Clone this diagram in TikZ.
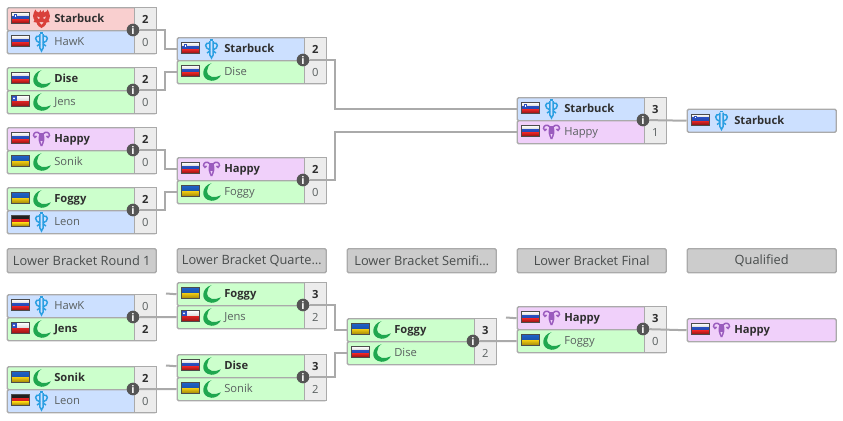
\documentclass[tikz,border=0pt]{standalone}
\usepackage{fontspec}
\setmainfont{Open Sans}
\usepackage{xcolor}
\usetikzlibrary{calc}
\definecolor{boxline}{HTML}{AAAAAA}
\definecolor{rowred}{HTML}{F9CFCF}
\definecolor{rowblue}{HTML}{CCE0FF}
\definecolor{rowgreen}{HTML}{CCFFCC}
\definecolor{rowpurple}{HTML}{F0D0FA}
\definecolor{scoregray}{HTML}{ECECEC}
\definecolor{headgray}{HTML}{CCCCCC}
\definecolor{infogray}{HTML}{555555}
\definecolor{textdark}{HTML}{2F2F2F}
\definecolor{textgrey}{HTML}{5A6060}
\definecolor{headtext}{HTML}{484C4C}
\definecolor{raceblue}{HTML}{2B9FE2}
\definecolor{racegreen}{HTML}{1FA74F}
\definecolor{racepurple}{HTML}{9A5BBE}
\definecolor{racered}{HTML}{D9403A}
\definecolor{flagblack}{HTML}{222222}
\definecolor{flagblue}{HTML}{2A4FC0}
\definecolor{flagsky}{HTML}{1F62C8}
\definecolor{flagred}{HTML}{DD2222}
\definecolor{flagyellow}{HTML}{F2CC10}
\newcommand{\winner}{\bfseries\color{textdark}}
\newcommand{\loser}{\color{textgrey}}
\newcommand{\stripes}[3]{
  \fill[top color=#1,bottom color=#1!85!black] (0,0) rectangle (18,3.7);
  \fill[top color=#2,bottom color=#2!88!black] (0,3.7) rectangle (18,7.4);
  \fill[top color=#3,bottom color=#3!60!black] (0,7.4) rectangle (18,11);
  \draw[black!70,line width=0.4pt] (0,0) rectangle (18,11);
}
\tikzset{
  rowbox/.style={draw=boxline,line width=1.1pt,rounded corners=1pt,anchor=north west,
    minimum width=111.75pt,minimum height=17.25pt,inner sep=0pt},
  scorebox/.style={draw=boxline,line width=1.1pt,fill=scoregray,anchor=north east,
    minimum width=16.5pt,minimum height=17.25pt,inner sep=0pt,font=\fontsize{8.4}{10}\selectfont},
  nametext/.style={anchor=west,inner sep=0pt,text height=6.4pt,text depth=1.6pt,
    font=\fontsize{8.4}{10}\selectfont},
  headbox/.style={draw=boxline,line width=1.1pt,fill=headgray,rounded corners=1pt,anchor=north west,
    minimum width=111.75pt,minimum height=18pt,inner sep=0pt,text=headtext,
    font=\fontsize{9.6}{11}\selectfont},
  infodot/.style={circle,fill=infogray,text=white,minimum size=9.5pt,inner sep=0pt,
    font=\bfseries\fontsize{8}{8}\selectfont},
  conn/.style={draw=boxline,line width=1.5pt},
  ru/.pic={\stripes{white}{flagblue}{flagred}},
  si/.pic={\stripes{white}{flagblue}{flagred}
    \fill[flagblue] (3,1.5) rectangle (6,5);
    \fill[white] (4,2.5) rectangle (5,4);},
  ua/.pic={
    \fill[top color=flagsky,bottom color=flagsky!85!black] (0,0) rectangle (18,5.5);
    \fill[top color=flagyellow,bottom color=flagyellow!65!black] (0,5.5) rectangle (18,11);
    \draw[black!70,line width=0.4pt] (0,0) rectangle (18,11);},
  de/.pic={\stripes{flagblack}{flagred}{flagyellow}},
  cl/.pic={
    \fill[top color=white,bottom color=white!85!black] (0,0) rectangle (18,5.5);
    \fill[top color=flagred,bottom color=flagred!65!black] (0,5.5) rectangle (18,11);
    \fill[flagblue] (0,0) rectangle (6,5.5);
    \fill[white] (3,2.8) circle (1);
    \draw[black!70,line width=0.4pt] (0,0) rectangle (18,11);},
  moon/.pic={
    \fill[racegreen,scale=1.1] (0,-8) .. controls (-9,-6) and (-11,7) .. (0,8)
      .. controls (4,8) and (7,6) .. (8.5,3) .. controls (3,6) and (-4,5) .. (-4,-1)
      .. controls (-4,-4) and (-2,-7) .. (0,-8) -- cycle;},
  tower/.pic={
    \draw[raceblue,line width=1.1pt] (-1.6,-8) -- (-1.6,6) -- (0,9) -- (1.6,6) -- (1.6,-8);
    \draw[raceblue,line width=1.1pt] (-1.6,-9) -- (1.6,-9);
    \draw[raceblue,line width=1.1pt] (-1.6,-6) .. controls (-7,-7) and (-7.5,-1) .. (-1.6,1)
      (1.6,-6) .. controls (7,-7) and (7.5,-1) .. (1.6,1)
      (-1.6,2) -- (-4.5,4) (1.6,2) -- (4.5,4);},
  horns/.pic={
    \draw[racepurple,line width=1.1pt] (-1.5,-5) .. controls (-4,-8) and (-8,-7) .. (-8,-3.5)
      .. controls (-8,-1) and (-5,-1) .. (-5,-3) (-1.5,-5) .. controls (-3,0) and (-2,3) .. (0,7);
    \draw[racepurple,line width=1.1pt] (1.5,-5) .. controls (4,-8) and (8,-7) .. (8,-3.5)
      .. controls (8,-1) and (5,-1) .. (5,-3) (1.5,-5) .. controls (3,0) and (2,3) .. (0,7);
    \fill[racepurple] (-2.2,-6) rectangle (2.2,2);},
  orc/.pic={
    \fill[racered,even odd rule] (-1,-9) -- (0,-6.5) -- (2,-9) -- (2.5,-6.5)
      .. controls (5,-7) and (6,-8) .. (6,-9.5) .. controls (9,-5) and (9,-1) .. (7,1)
      -- (8,3) -- (5,3.5) .. controls (4,7) and (2,8) .. (0,9)
      .. controls (-2,8) and (-4,7) .. (-5,3.5) -- (-8,3) -- (-7,1)
      .. controls (-9,-1) and (-9,-5) .. (-6,-9.5) .. controls (-6,-8) and (-5,-7) .. (-2.5,-6.5)
      -- cycle
      (-4.5,-3) -- (-1,-1) -- (-3.5,0) -- cycle (4.5,-3) -- (1,-1) -- (3.5,0) -- cycle
      (-2.5,3) -- (2.5,3) -- (0,6) -- cycle;}
}
\newcommand{\playerrow}[9]{
  \node[rowbox,fill=#4] (#1) at (#2+0.5,#3) {};
  \node[scorebox] (#1s) at (#1.north east) {#7#9};
  \pic at (#2+5,#3+5.5) {#5};
  \pic at (#2+35.5,#3+12) {#6};
  \node[nametext] (#1n) at (#2+48,#3+12.3) {#7#8};
}
\newcommand{\finalrow}[7]{
  \node[rowbox,fill=#4] (#1) at (#2+0.5,#3) {};
  \pic at (#2+5,#3+5.5) {#5};
  \pic at (#2+35.5,#3+12) {#6};
  \node[nametext] (#1n) at (#2+48,#3+12.3) {\winner #7};
}
\begin{document}
\begin{tikzpicture}[x=0.75pt,y=-0.75pt]
  \useasboundingbox (0,0) rectangle (843,421);
  \playerrow{ua}{6}{7}{rowred}{si}{orc}{\winner}{Starbuck}{2}
  \playerrow{ub}{6}{30}{rowblue}{ru}{tower}{\loser}{HawK}{0}
  \playerrow{uc}{6}{67}{rowgreen}{ru}{moon}{\winner}{Dise}{2}
  \playerrow{ud}{6}{90}{rowgreen}{cl}{moon}{\loser}{Jens}{0}
  \playerrow{ue}{6}{127}{rowpurple}{ru}{horns}{\winner}{Happy}{2}
  \playerrow{uf}{6}{150}{rowgreen}{ua}{moon}{\loser}{Sonik}{0}
  \playerrow{ug}{6}{187}{rowgreen}{ua}{moon}{\winner}{Foggy}{2}
  \playerrow{uh}{6}{210}{rowblue}{de}{tower}{\loser}{Leon}{0}
  \playerrow{va}{176}{37}{rowblue}{si}{tower}{\winner}{Starbuck}{2}
  \playerrow{vb}{176}{60}{rowgreen}{ru}{moon}{\loser}{Dise}{0}
  \playerrow{vc}{176}{157}{rowpurple}{ru}{horns}{\winner}{Happy}{2}
  \playerrow{vd}{176}{180}{rowgreen}{ua}{moon}{\loser}{Foggy}{0}
  \playerrow{wa}{516}{97}{rowblue}{si}{tower}{\winner}{Starbuck}{3}
  \playerrow{wb}{516}{120}{rowpurple}{ru}{horns}{\loser}{Happy}{1}
  \finalrow{qa}{686}{108.5}{rowblue}{si}{tower}{Starbuck}

  \node[headbox] (ha) at (6.5,248) {Lower Bracket Round 1};
  \node[headbox] (hb) at (176.5,248) {Lower Bracket Quarte…};
  \node[headbox] (hc) at (346.5,248) {Lower Bracket Semifi…};
  \node[headbox] (hd) at (516.5,248) {Lower Bracket Final};
  \node[headbox] (he) at (686.5,248) {Qualified};

  \playerrow{la}{6}{294}{rowblue}{ru}{tower}{\loser}{HawK}{0}
  \playerrow{lb}{6}{317}{rowgreen}{cl}{moon}{\winner}{Jens}{2}
  \playerrow{lc}{6}{366}{rowgreen}{ua}{moon}{\winner}{Sonik}{2}
  \playerrow{ld}{6}{389}{rowblue}{de}{tower}{\loser}{Leon}{0}
  \playerrow{ma}{176}{282}{rowgreen}{ua}{moon}{\winner}{Foggy}{3}
  \playerrow{mb}{176}{305}{rowgreen}{cl}{moon}{\loser}{Jens}{2}
  \playerrow{mc}{176}{354}{rowgreen}{ru}{moon}{\winner}{Dise}{3}
  \playerrow{md}{176}{377}{rowgreen}{ua}{moon}{\loser}{Sonik}{2}
  \playerrow{na}{346}{318}{rowgreen}{ua}{moon}{\winner}{Foggy}{3}
  \playerrow{nb}{346}{341}{rowgreen}{ru}{moon}{\loser}{Dise}{2}
  \playerrow{oa}{516}{306}{rowpurple}{ru}{horns}{\winner}{Happy}{3}
  \playerrow{ob}{516}{329}{rowgreen}{ua}{moon}{\loser}{Foggy}{0}
  \finalrow{qb}{686}{318}{rowpurple}{ru}{horns}{Happy}

  \coordinate (sa) at (166,293.5);
  \coordinate (sb) at (166,365.5);
  \coordinate (sc) at (506,317.5);
  \draw[conn] (sa) -- (ma.west);
  \draw[conn] (sb) -- (mc.west);
  \draw[conn] (sc) -- (oa.west);

  \node[infodot] (ia) at (133,30) {i};
  \node[infodot] (ib) at (133,90) {i};
  \node[infodot] (ic) at (133,150) {i};
  \node[infodot] (id) at (133,210) {i};
  \node[infodot] (ie) at (303,60) {i};
  \node[infodot] (if) at (303,180) {i};
  \node[infodot] (ig) at (643,120) {i};
  \node[infodot] (ih) at (133,317) {i};
  \node[infodot] (ii) at (133,389) {i};
  \node[infodot] (ij) at (303,305) {i};
  \node[infodot] (ik) at (303,377) {i};
  \node[infodot] (il) at (473,341) {i};
  \node[infodot] (im) at (643,329) {i};

  \draw[conn] (ia) -- (165,30) |- (va.west);
  \draw[conn] (ib) -- (165,90) |- (vb.west);
  \draw[conn] (ic) -- (165,150) |- (vc.west);
  \draw[conn] (id) -- (165,210) |- (vd.west);
  \draw[conn] (ie) -- (335,60) |- (wa.west);
  \draw[conn] (if) -- (335,180) |- (wb.west);
  \draw[conn] (ig) -- (qa.west);
  \draw[conn] (ih) -- (mb.west);
  \draw[conn] (ii) -- (md.west);
  \draw[conn] (ij) -- (335,305) |- (na.west);
  \draw[conn] (ik) -- (335,377) |- (nb.west);
  \draw[conn] (il) -- (ob.west);
  \draw[conn] (im) -- (qb.west);
\end{tikzpicture}
\end{document}
